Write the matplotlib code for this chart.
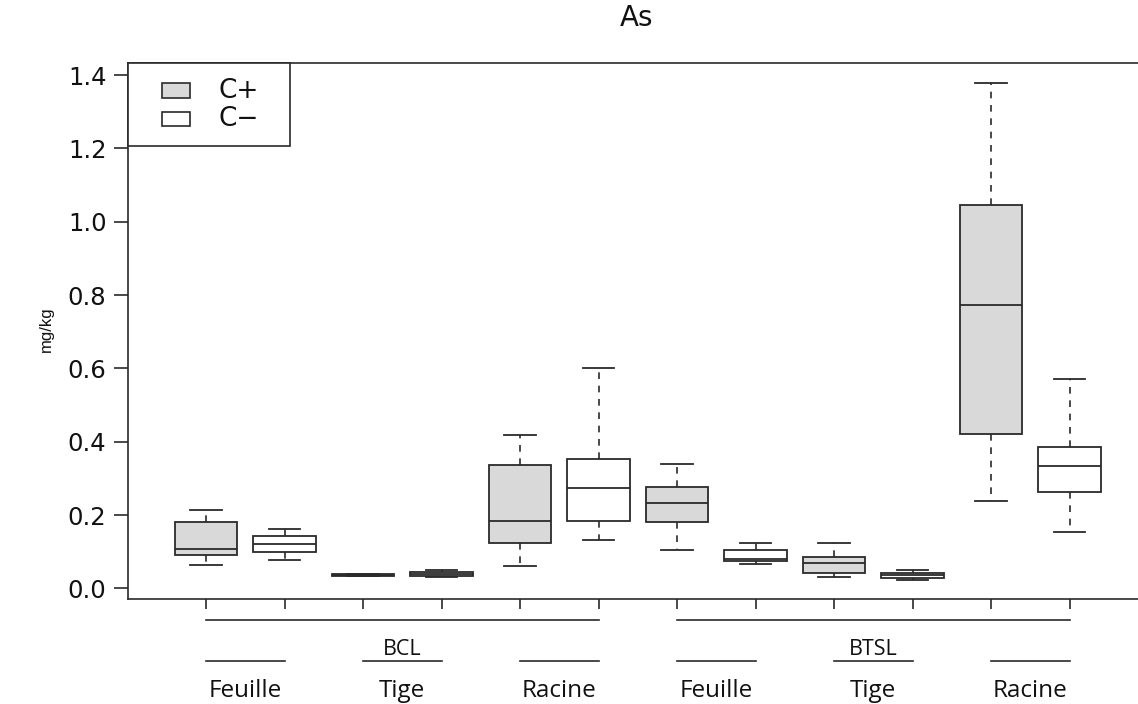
import matplotlib
matplotlib.use("Agg")
import matplotlib.pyplot as plt
from matplotlib.patches import Rectangle
from matplotlib.transforms import blended_transform_factory

# five-number summaries (lower whisker, Q1, median, Q3, upper whisker), mg/kg
sites = ["BCL", "BTSL"]
organs = ["Feuille", "Tige", "Racine"]
treatments = ["C+", "C\u2212"]

whislo = [0.064, 0.077, 0.034, 0.031, 0.060, 0.132,
          0.104, 0.067, 0.032, 0.022, 0.238, 0.155]
q1 = [0.091, 0.098, 0.035, 0.034, 0.125, 0.183,
      0.180, 0.074, 0.043, 0.029, 0.422, 0.262]
med = [0.107, 0.122, 0.036, 0.038, 0.183, 0.274,
       0.232, 0.081, 0.068, 0.036, 0.773, 0.334]
q3 = [0.181, 0.143, 0.038, 0.044, 0.337, 0.352,
      0.276, 0.104, 0.086, 0.043, 1.046, 0.385]
whishi = [0.214, 0.162, 0.039, 0.050, 0.418, 0.601,
          0.338, 0.123, 0.123, 0.051, 1.378, 0.571]

yticks = [0.0, 0.2, 0.4, 0.6, 0.8, 1.0, 1.2, 1.4]

fill = {"C+": "#d9d9d9", "C\u2212": "white"}
ink = "#111111"
line = "#2a2a2a"

W, H = 1138, 704
fig = plt.figure(figsize=(W / 100, H / 100), dpi=100)
ax_l, ax_r, ax_t, ax_b = 128, 1138, 63, 599
ax = fig.add_axes([ax_l / W, 1 - ax_b / H, (ax_r - ax_l) / W, (ax_b - ax_t) / H])

n = len(med)
positions = list(range(1, n + 1))
stats = [dict(whislo=whislo[i], q1=q1[i], med=med[i], q3=q3[i],
              whishi=whishi[i], fliers=[]) for i in range(n)]

bp = ax.bxp(stats, positions=positions, widths=0.8, capwidths=0.4,
            patch_artist=True, showfliers=False,
            boxprops=dict(edgecolor=line, linewidth=1.3),
            medianprops=dict(color=line, linewidth=1.3),
            whiskerprops=dict(color=line, linewidth=1.2, linestyle=(0, (4, 4))),
            capprops=dict(color=line, linewidth=1.3))
for i, box in enumerate(bp["boxes"]):
    box.set_facecolor(fill[treatments[i % 2]])

spacing = 78.5
ax.set_xlim(1 - (206 - ax_l) / spacing, 1 + (ax_r - 206) / spacing)
ax.set_ylim(-0.029, 1.433)

ax.spines["right"].set_visible(False)
for s in ("left", "bottom", "top"):
    ax.spines[s].set_color(line)
    ax.spines[s].set_linewidth(1.2)

ax.set_yticks(yticks)
ax.set_yticklabels([f"{v:.1f}" for v in yticks], fontsize=17.5, color=ink,
                   family="DejaVu Sans")
ax.tick_params(axis="y", length=10, width=1.2, color=line, pad=5.5)
ax.set_xticks(positions)
ax.set_xticklabels([])
ax.tick_params(axis="x", length=7, width=1.2, color=line)

# grouped category labels under the axis
tr = blended_transform_factory(ax.transData, ax.transAxes)
ah = ax_b - ax_t


def ay(px):
    return (ax_b - px) / ah


label_font = "Open Sans"
for s, site in enumerate(sites):
    first = s * 6 + 1
    ax.plot([first, first + 5], [ay(620)] * 2, color=line, lw=1.2,
            transform=tr, clip_on=False)
    for o, organ in enumerate(organs):
        a = first + 2 * o
        ax.plot([a, a + 1], [ay(661)] * 2, color=line, lw=1.2,
                transform=tr, clip_on=False)
        ax.text(a + 0.5, ay(697), organ, transform=tr, ha="center",
                va="baseline", fontsize=17.5, color=ink, family=label_font)
    ax.text(first + 2.5, ay(655), site, transform=tr, ha="center",
            va="baseline", fontsize=15.5, color=ink, family=label_font)

# legend box in the upper-left corner
aw = ax_r - ax_l


def axx(px):
    return (px - ax_l) / aw


ax.add_patch(Rectangle((0, ay(146)), axx(290), 1 - ay(146), transform=ax.transAxes,
                       facecolor="white", edgecolor=line, lw=1.2, clip_on=False,
                       zorder=5))
for k, (t, top, bot) in enumerate([("C+", 83, 98), ("C\u2212", 112, 126)]):
    ax.add_patch(Rectangle((axx(162), ay(bot)), axx(190) - axx(162), ay(top) - ay(bot),
                           transform=ax.transAxes, facecolor=fill[t],
                           edgecolor=line, lw=1.2, zorder=6))
    ax.text(axx(219), ay((top + bot) / 2), t, transform=ax.transAxes,
            ha="left", va="center", fontsize=19, color=ink,
            family="DejaVu Sans", zorder=7)

fig.text(636.5 / W, 1 - 26 / H, "As", ha="center", va="baseline",
         fontsize=20, color=ink, family="DejaVu Sans")
fig.text(46 / W, 1 - 329 / H, "mg/kg", ha="center", va="center",
         rotation=90, fontsize=12, color=ink, family="Liberation Sans")

fig.savefig("out.png", dpi=100, facecolor="white")
